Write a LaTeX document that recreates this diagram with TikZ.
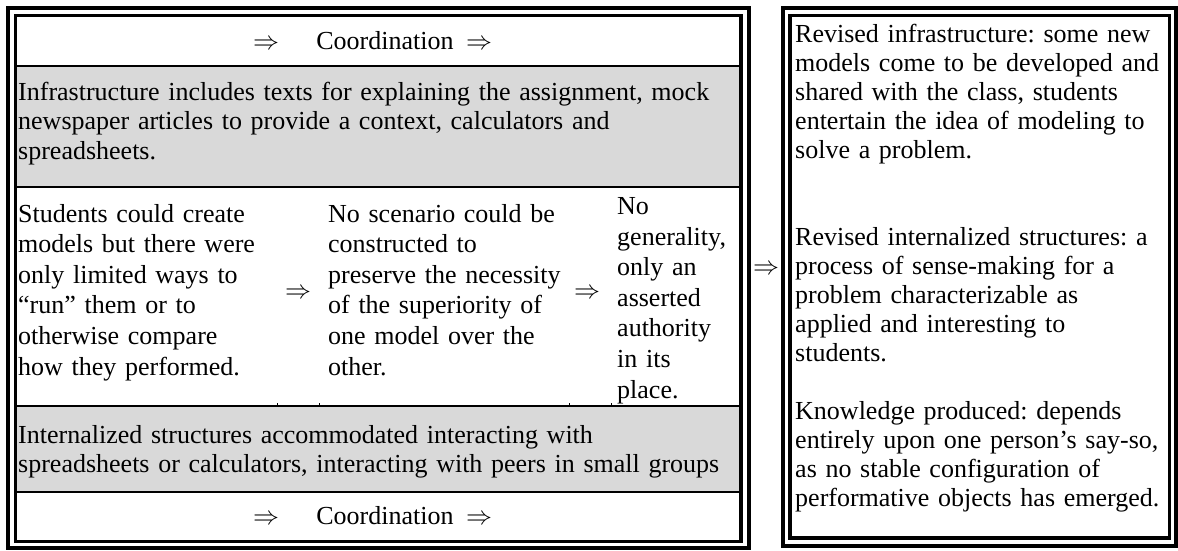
\RequirePackage{fix-cm}
\documentclass[tikz,border=0pt]{standalone}
\usepackage{fontspec}
\setmainfont{Liberation Serif}
\frenchspacing
\definecolor{cellgray}{HTML}{D9D9D9}
\begin{document}
\begin{tikzpicture}[x=1pt,y=-1pt,
  txt/.style={anchor=base west, inner sep=0pt, align=left, text width=#1,
    font=\fontsize{26}{29.6}\selectfont},
  coltxt/.style={txt=#1, font=\fontsize{26}{30.6}\selectfont},
  sidetxt/.style={txt=#1, font=\fontsize{26}{29}\selectfont},
  word/.style={anchor=base, inner sep=0pt, font=\fontsize{26}{29.6}\selectfont},
  outerline/.style={line width=4pt},
  innerline/.style={line width=3.2pt},
  rule/.style={line width=1.3pt},
  tick/.style={line width=1pt}]
\useasboundingbox (0,0) rectangle (1178,550);

% shaded rows of the left table
\fill[cellgray] (17,66) rectangle (739.5,187);
\fill[cellgray] (17,406) rectangle (739.5,492);

% row separators
\foreach \yy in {66,187,406,492}
  \draw[rule] (17,\yy) -- (739.5,\yy);

% stubs of the column borders above the lower shaded row
\foreach \xx in {277,319,569,611}
  \draw[tick] (\xx,403) -- (\xx,406);

% double frame of the left table
\draw[outerline] (8,8) rectangle (748.5,548);
\draw[innerline] (15.5,15.5) rectangle (741,541.5);

% double frame of the right box
\draw[outerline] (783,8) rectangle (1176,545.5);
\draw[innerline] (790,15.5) rectangle (1169.5,538);

% top coordination row
\node[word] (ta) at (266,49.5) {$\Rightarrow$};
\node[word] (tc) at (385,49.5) {Coordination};
\node[word] (tb) at (479,49.5) {$\Rightarrow$};

% infrastructure row
\node[txt=730pt] (infra) at (18,100) {Infrastructure includes texts for explaining the assignment, mock\\newspaper articles to provide a context, calculators and\\spreadsheets.};

% three-column row
\node[coltxt=270pt] (c1) at (18,222) {Students could create\\models but there were\\only limited ways to\\“run” them or to\\otherwise compare\\how they performed.};
\node[word] (a1) at (298,298.5) {$\Rightarrow$};
\node[coltxt=260pt] (c2) at (328,222) {No scenario could be\\constructed to\\preserve the necessity\\of the superiority of\\one model over the\\other.};
\node[word] (a2) at (587,298.5) {$\Rightarrow$};
\node[coltxt=130pt] (c3) at (617,214.5) {No\\generality,\\only an\\asserted\\authority\\in its\\place.};

% internalized structures row
\node[txt=730pt] (intern) at (18,443) {Internalized structures accommodated interacting with\\spreadsheets or calculators, interacting with peers in small groups};

% bottom coordination row
\node[word] (ba) at (266,524) {$\Rightarrow$};
\node[word] (bc) at (385,524) {Coordination};
\node[word] (bb) at (479,524) {$\Rightarrow$};

% arrow between the two boxes
\node[word] (mid) at (766,274) {$\Rightarrow$};

% right box paragraphs
\node[sidetxt=380pt] (p1) at (795,42) {Revised infrastructure: some new\\models come to be developed and\\shared with the class, students\\entertain the idea of modeling to\\solve a problem.};
\node[sidetxt=380pt] (p2) at (795,245) {Revised internalized structures: a\\process of sense-making for a\\problem characterizable as\\applied and interesting to\\students.};
\node[sidetxt=380pt] (p3) at (795,419) {Knowledge produced: depends\\entirely upon one person’s say-so,\\as no stable configuration of\\performative objects has emerged.};
\end{tikzpicture}
\end{document}
